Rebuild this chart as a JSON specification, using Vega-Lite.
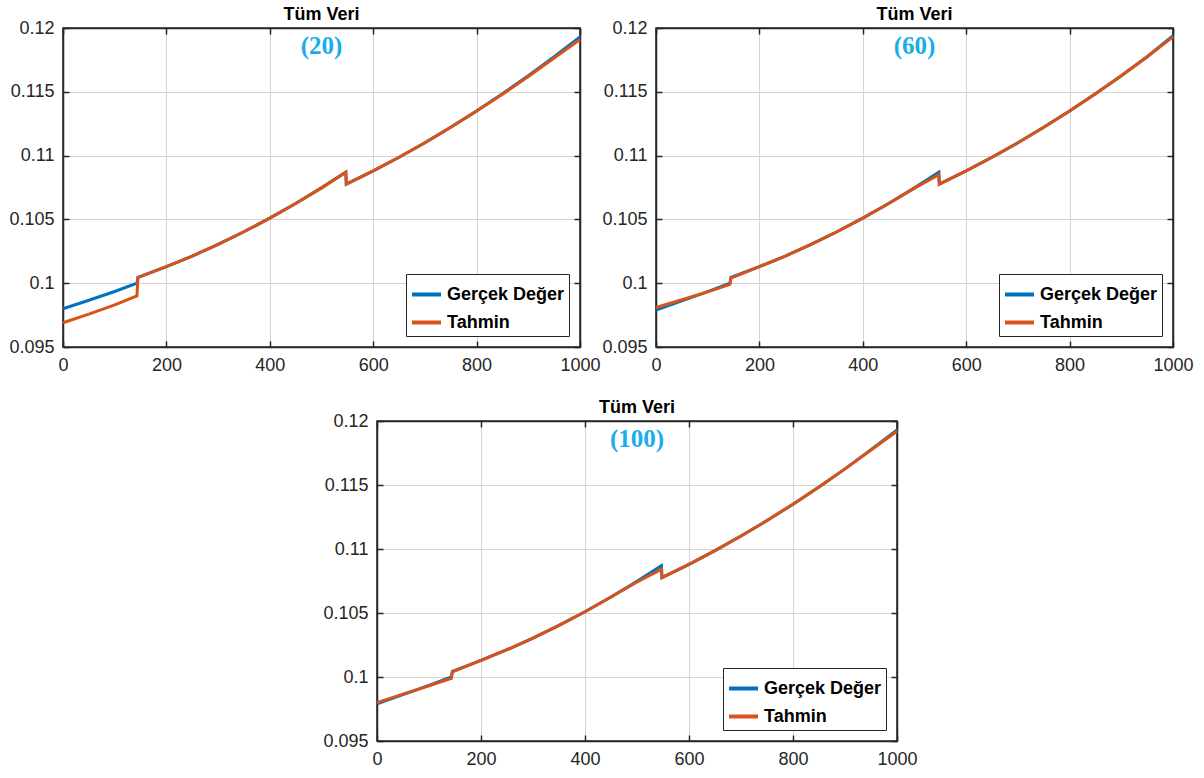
{
  "$schema": "https://vega.github.io/schema/vega-lite/v6.json",
  "padding": {"left": 8, "top": 5, "right": 5, "bottom": 5},
  "background": "white",
  "datasets": {
    "curves": [
      {"p":"20","s":"Gerçek Değer","x":0,"y":0.0980},{"p":"20","s":"Gerçek Değer","x":50,"y":0.09866},{"p":"20","s":"Gerçek Değer","x":100,"y":0.09935},{"p":"20","s":"Gerçek Değer","x":143,"y":0.1000},{"p":"20","s":"Gerçek Değer","x":145,"y":0.10045},{"p":"20","s":"Gerçek Değer","x":200,"y":0.1013},{"p":"20","s":"Gerçek Değer","x":250,"y":0.10213},{"p":"20","s":"Gerçek Değer","x":300,"y":0.10304},{"p":"20","s":"Gerçek Değer","x":350,"y":0.10403},{"p":"20","s":"Gerçek Değer","x":400,"y":0.1051},{"p":"20","s":"Gerçek Değer","x":450,"y":0.10625},{"p":"20","s":"Gerçek Değer","x":500,"y":0.10747},{"p":"20","s":"Gerçek Değer","x":547,"y":0.1087},{"p":"20","s":"Gerçek Değer","x":548,"y":0.10776},{"p":"20","s":"Gerçek Değer","x":600,"y":0.1088},{"p":"20","s":"Gerçek Değer","x":650,"y":0.10987},{"p":"20","s":"Gerçek Değer","x":700,"y":0.11101},{"p":"20","s":"Gerçek Değer","x":750,"y":0.11222},{"p":"20","s":"Gerçek Değer","x":800,"y":0.1135},{"p":"20","s":"Gerçek Değer","x":850,"y":0.11485},{"p":"20","s":"Gerçek Değer","x":900,"y":0.11626},{"p":"20","s":"Gerçek Değer","x":950,"y":0.11775},{"p":"20","s":"Gerçek Değer","x":1000,"y":0.1193},
      {"p":"20","s":"Tahmin","x":0,"y":0.0969},{"p":"20","s":"Tahmin","x":50,"y":0.09757},{"p":"20","s":"Tahmin","x":100,"y":0.0983},{"p":"20","s":"Tahmin","x":143,"y":0.0990},{"p":"20","s":"Tahmin","x":145,"y":0.10045},{"p":"20","s":"Tahmin","x":200,"y":0.1013},{"p":"20","s":"Tahmin","x":250,"y":0.10213},{"p":"20","s":"Tahmin","x":300,"y":0.10304},{"p":"20","s":"Tahmin","x":350,"y":0.10403},{"p":"20","s":"Tahmin","x":400,"y":0.1051},{"p":"20","s":"Tahmin","x":450,"y":0.10625},{"p":"20","s":"Tahmin","x":500,"y":0.10747},{"p":"20","s":"Tahmin","x":547,"y":0.1087},{"p":"20","s":"Tahmin","x":548,"y":0.10776},{"p":"20","s":"Tahmin","x":600,"y":0.1088},{"p":"20","s":"Tahmin","x":650,"y":0.10987},{"p":"20","s":"Tahmin","x":700,"y":0.11101},{"p":"20","s":"Tahmin","x":750,"y":0.11222},{"p":"20","s":"Tahmin","x":800,"y":0.1135},{"p":"20","s":"Tahmin","x":850,"y":0.1148},{"p":"20","s":"Tahmin","x":900,"y":0.1162},{"p":"20","s":"Tahmin","x":950,"y":0.11765},{"p":"20","s":"Tahmin","x":1000,"y":0.1191},
      {"p":"60","s":"Gerçek Değer","x":0,"y":0.0979},{"p":"60","s":"Gerçek Değer","x":50,"y":0.09862},{"p":"60","s":"Gerçek Değer","x":100,"y":0.09934},{"p":"60","s":"Gerçek Değer","x":143,"y":0.1000},{"p":"60","s":"Gerçek Değer","x":145,"y":0.10045},{"p":"60","s":"Gerçek Değer","x":200,"y":0.1013},{"p":"60","s":"Gerçek Değer","x":250,"y":0.10213},{"p":"60","s":"Gerçek Değer","x":300,"y":0.10304},{"p":"60","s":"Gerçek Değer","x":350,"y":0.10403},{"p":"60","s":"Gerçek Değer","x":400,"y":0.1051},{"p":"60","s":"Gerçek Değer","x":450,"y":0.10625},{"p":"60","s":"Gerçek Değer","x":500,"y":0.10747},{"p":"60","s":"Gerçek Değer","x":547,"y":0.1087},{"p":"60","s":"Gerçek Değer","x":548,"y":0.10776},{"p":"60","s":"Gerçek Değer","x":600,"y":0.1088},{"p":"60","s":"Gerçek Değer","x":650,"y":0.10987},{"p":"60","s":"Gerçek Değer","x":700,"y":0.11101},{"p":"60","s":"Gerçek Değer","x":750,"y":0.11222},{"p":"60","s":"Gerçek Değer","x":800,"y":0.1135},{"p":"60","s":"Gerçek Değer","x":850,"y":0.11485},{"p":"60","s":"Gerçek Değer","x":900,"y":0.11626},{"p":"60","s":"Gerçek Değer","x":950,"y":0.11775},{"p":"60","s":"Gerçek Değer","x":1000,"y":0.1194},
      {"p":"60","s":"Tahmin","x":0,"y":0.0981},{"p":"60","s":"Tahmin","x":50,"y":0.0987},{"p":"60","s":"Tahmin","x":100,"y":0.09932},{"p":"60","s":"Tahmin","x":143,"y":0.0999},{"p":"60","s":"Tahmin","x":145,"y":0.1004},{"p":"60","s":"Tahmin","x":200,"y":0.1013},{"p":"60","s":"Tahmin","x":250,"y":0.10213},{"p":"60","s":"Tahmin","x":300,"y":0.10304},{"p":"60","s":"Tahmin","x":350,"y":0.10403},{"p":"60","s":"Tahmin","x":400,"y":0.1051},{"p":"60","s":"Tahmin","x":450,"y":0.10625},{"p":"60","s":"Tahmin","x":500,"y":0.10745},{"p":"60","s":"Tahmin","x":547,"y":0.1085},{"p":"60","s":"Tahmin","x":548,"y":0.10776},{"p":"60","s":"Tahmin","x":600,"y":0.1088},{"p":"60","s":"Tahmin","x":650,"y":0.10987},{"p":"60","s":"Tahmin","x":700,"y":0.11101},{"p":"60","s":"Tahmin","x":750,"y":0.11222},{"p":"60","s":"Tahmin","x":800,"y":0.1135},{"p":"60","s":"Tahmin","x":850,"y":0.11485},{"p":"60","s":"Tahmin","x":900,"y":0.11626},{"p":"60","s":"Tahmin","x":950,"y":0.11775},{"p":"60","s":"Tahmin","x":1000,"y":0.1193},
      {"p":"100","s":"Gerçek Değer","x":0,"y":0.0979},{"p":"100","s":"Gerçek Değer","x":50,"y":0.09862},{"p":"100","s":"Gerçek Değer","x":100,"y":0.09934},{"p":"100","s":"Gerçek Değer","x":143,"y":0.1000},{"p":"100","s":"Gerçek Değer","x":145,"y":0.10045},{"p":"100","s":"Gerçek Değer","x":200,"y":0.1013},{"p":"100","s":"Gerçek Değer","x":250,"y":0.10213},{"p":"100","s":"Gerçek Değer","x":300,"y":0.10304},{"p":"100","s":"Gerçek Değer","x":350,"y":0.10403},{"p":"100","s":"Gerçek Değer","x":400,"y":0.1051},{"p":"100","s":"Gerçek Değer","x":450,"y":0.10625},{"p":"100","s":"Gerçek Değer","x":500,"y":0.10747},{"p":"100","s":"Gerçek Değer","x":547,"y":0.1087},{"p":"100","s":"Gerçek Değer","x":548,"y":0.10776},{"p":"100","s":"Gerçek Değer","x":600,"y":0.1088},{"p":"100","s":"Gerçek Değer","x":650,"y":0.10987},{"p":"100","s":"Gerçek Değer","x":700,"y":0.11101},{"p":"100","s":"Gerçek Değer","x":750,"y":0.11222},{"p":"100","s":"Gerçek Değer","x":800,"y":0.1135},{"p":"100","s":"Gerçek Değer","x":850,"y":0.11485},{"p":"100","s":"Gerçek Değer","x":900,"y":0.11626},{"p":"100","s":"Gerçek Değer","x":950,"y":0.11775},{"p":"100","s":"Gerçek Değer","x":1000,"y":0.1193},
      {"p":"100","s":"Tahmin","x":0,"y":0.0980},{"p":"100","s":"Tahmin","x":50,"y":0.09866},{"p":"100","s":"Tahmin","x":100,"y":0.09931},{"p":"100","s":"Tahmin","x":143,"y":0.0999},{"p":"100","s":"Tahmin","x":145,"y":0.1004},{"p":"100","s":"Tahmin","x":200,"y":0.1013},{"p":"100","s":"Tahmin","x":250,"y":0.10213},{"p":"100","s":"Tahmin","x":300,"y":0.10304},{"p":"100","s":"Tahmin","x":350,"y":0.10403},{"p":"100","s":"Tahmin","x":400,"y":0.1051},{"p":"100","s":"Tahmin","x":450,"y":0.10625},{"p":"100","s":"Tahmin","x":500,"y":0.10742},{"p":"100","s":"Tahmin","x":547,"y":0.1084},{"p":"100","s":"Tahmin","x":548,"y":0.10776},{"p":"100","s":"Tahmin","x":600,"y":0.1088},{"p":"100","s":"Tahmin","x":650,"y":0.10987},{"p":"100","s":"Tahmin","x":700,"y":0.11101},{"p":"100","s":"Tahmin","x":750,"y":0.11222},{"p":"100","s":"Tahmin","x":800,"y":0.1135},{"p":"100","s":"Tahmin","x":850,"y":0.11485},{"p":"100","s":"Tahmin","x":900,"y":0.11626},{"p":"100","s":"Tahmin","x":950,"y":0.11773},{"p":"100","s":"Tahmin","x":1000,"y":0.1192}
    ]
  },
  "bounds": "full",
  "spacing": 23,
  "resolve": {"legend": {"color": "independent"}},
  "vconcat": [
    {
      "bounds": "flush",
      "spacing": 76,
      "resolve": {"legend": {"color": "independent"}},
      "hconcat": [
        {
          "width": 517, "height": 319,
          "title": "Tüm Veri",
          "layer": [
            {
              "data": {"name": "curves"},
              "transform": [{"filter": "datum.p === '20'"}],
              "mark": {"type": "line", "strokeWidth": 3},
              "encoding": {
                "x": {"field": "x", "type": "quantitative", "scale": {"domain": [0, 1000], "nice": false}, "axis": {"title": null, "values": [0, 200, 400, 600, 800, 1000], "format": "d", "grid": true, "labelFlush": false}},
                "y": {"field": "y", "type": "quantitative", "scale": {"domain": [0.095, 0.12], "nice": false, "zero": false}, "axis": {"title": null, "values": [0.095, 0.1, 0.105, 0.11, 0.115, 0.12], "format": "~g", "grid": true, "labelFlush": false}},
                "color": {"field": "s", "type": "nominal", "scale": {"domain": ["Gerçek Değer", "Tahmin"], "range": ["#0072BD", "#D95319"]}, "legend": {"title": null}}
              }
            },
            {
              "data": {"values": [{"label": "(20)"}]},
              "mark": {"type": "text", "font": "Liberation Serif", "fontWeight": "bold", "fontSize": 25, "color": "#19AEE8"},
              "encoding": {
                "x": {"datum": 500, "type": "quantitative", "axis": {"orient": "top", "title": null, "labels": false, "grid": false, "values": [0, 200, 400, 600, 800, 1000]}},
                "y": {"datum": 0.1186, "type": "quantitative", "axis": {"orient": "right", "title": null, "labels": false, "grid": false, "values": [0.095, 0.1, 0.105, 0.11, 0.115, 0.12]}},
                "text": {"field": "label"}
              }
            }
          ],
          "resolve": {"axis": {"x": "independent", "y": "independent"}}
        },
        {
          "width": 517, "height": 319,
          "title": "Tüm Veri",
          "layer": [
            {
              "data": {"name": "curves"},
              "transform": [{"filter": "datum.p === '60'"}],
              "mark": {"type": "line", "strokeWidth": 3},
              "encoding": {
                "x": {"field": "x", "type": "quantitative", "scale": {"domain": [0, 1000], "nice": false}, "axis": {"title": null, "values": [0, 200, 400, 600, 800, 1000], "format": "d", "grid": true, "labelFlush": false}},
                "y": {"field": "y", "type": "quantitative", "scale": {"domain": [0.095, 0.12], "nice": false, "zero": false}, "axis": {"title": null, "values": [0.095, 0.1, 0.105, 0.11, 0.115, 0.12], "format": "~g", "grid": true, "labelFlush": false}},
                "color": {"field": "s", "type": "nominal", "scale": {"domain": ["Gerçek Değer", "Tahmin"], "range": ["#0072BD", "#D95319"]}, "legend": {"title": null}}
              }
            },
            {
              "data": {"values": [{"label": "(60)"}]},
              "mark": {"type": "text", "font": "Liberation Serif", "fontWeight": "bold", "fontSize": 25, "color": "#19AEE8"},
              "encoding": {
                "x": {"datum": 500, "type": "quantitative", "axis": {"orient": "top", "title": null, "labels": false, "grid": false, "values": [0, 200, 400, 600, 800, 1000]}},
                "y": {"datum": 0.1186, "type": "quantitative", "axis": {"orient": "right", "title": null, "labels": false, "grid": false, "values": [0.095, 0.1, 0.105, 0.11, 0.115, 0.12]}},
                "text": {"field": "label"}
              }
            }
          ],
          "resolve": {"axis": {"x": "independent", "y": "independent"}}
        }
      ]
    },
    {
      "bounds": "flush",
      "spacing": 14,
      "resolve": {"legend": {"color": "independent"}},
      "hconcat": [
        {
          "width": 300, "height": 320,
          "view": {"stroke": null},
          "data": {"values": []},
          "mark": {"type": "point", "opacity": 0}
        },
        {
          "width": 520, "height": 320,
          "title": "Tüm Veri",
          "layer": [
            {
              "data": {"name": "curves"},
              "transform": [{"filter": "datum.p === '100'"}],
              "mark": {"type": "line", "strokeWidth": 3},
              "encoding": {
                "x": {"field": "x", "type": "quantitative", "scale": {"domain": [0, 1000], "nice": false}, "axis": {"title": null, "values": [0, 200, 400, 600, 800, 1000], "format": "d", "grid": true, "labelFlush": false}},
                "y": {"field": "y", "type": "quantitative", "scale": {"domain": [0.095, 0.12], "nice": false, "zero": false}, "axis": {"title": null, "values": [0.095, 0.1, 0.105, 0.11, 0.115, 0.12], "format": "~g", "grid": true, "labelFlush": false}},
                "color": {"field": "s", "type": "nominal", "scale": {"domain": ["Gerçek Değer", "Tahmin"], "range": ["#0072BD", "#D95319"]}, "legend": {"title": null}}
              }
            },
            {
              "data": {"values": [{"label": "(100)"}]},
              "mark": {"type": "text", "font": "Liberation Serif", "fontWeight": "bold", "fontSize": 25, "color": "#19AEE8"},
              "encoding": {
                "x": {"datum": 500, "type": "quantitative", "axis": {"orient": "top", "title": null, "labels": false, "grid": false, "values": [0, 200, 400, 600, 800, 1000]}},
                "y": {"datum": 0.1186, "type": "quantitative", "axis": {"orient": "right", "title": null, "labels": false, "grid": false, "values": [0.095, 0.1, 0.105, 0.11, 0.115, 0.12]}},
                "text": {"field": "label"}
              }
            }
          ],
          "resolve": {"axis": {"x": "independent", "y": "independent"}}
        }
      ]
    }
  ],
  "config": {
    "font": "Liberation Sans",
    "view": {"stroke": "#262626", "strokeWidth": 1.5},
    "axis": {
      "labelFont": "Liberation Sans",
      "labelFontSize": 18,
      "labelColor": "#262626",
      "domainColor": "#262626",
      "domainWidth": 1.5,
      "tickColor": "#262626",
      "tickWidth": 1.5,
      "tickSize": -6,
      "labelPadding": 15,
      "gridColor": "#d4d4d4",
      "gridWidth": 1,
      "labelOverlap": false
    },
    "title": {"font": "Liberation Sans", "fontSize": 18, "fontWeight": "bold", "color": "#000000", "offset": -5, "anchor": "middle"},
    "legend": {
      "orient": "bottom-right",
      "offset": 11,
      "fillColor": "white",
      "strokeColor": "#262626",
      "strokeWidth": 1,
      "padding": 4,
      "cornerRadius": 0,
      "symbolType": "stroke",
      "symbolSize": 841,
      "symbolStrokeWidth": 4,
      "labelFont": "Liberation Sans",
      "labelFontSize": 18,
      "labelFontWeight": "bold",
      "labelColor": "#000000",
      "labelOffset": 4,
      "rowPadding": 2,
      "labelLimit": 0
    }
  }
}
